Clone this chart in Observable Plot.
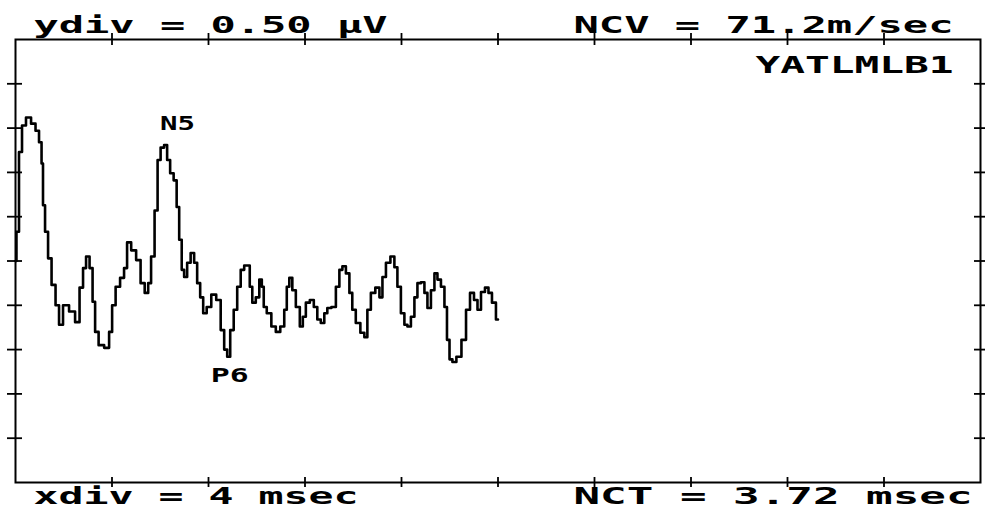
<!DOCTYPE html>
<html>
<head>
<meta charset="utf-8">
<script src="https://cdn.jsdelivr.net/npm/d3@7"></script>
<script src="https://cdn.jsdelivr.net/npm/@observablehq/plot@0.6"></script>
<style>
  html, body { margin: 0; padding: 0; background: #fff; }
  #chart svg { display: block; }
</style>
</head>
<body>
<div id="chart"></div>
<script>
// Trace samples: time (ms) and amplitude (µV)
const timeMs = [0, 0.08, 0.21, 0.33, 0.54, 0.75, 0.91, 1.04, 1.12, 1.16, 1.29, 1.41, 1.58, 1.74, 1.87, 2.07, 2.37, 2.57, 2.74, 2.86, 2.99, 3.15, 3.24, 3.36, 3.53, 3.82, 3.94, 4.07, 4.23, 4.44, 4.56, 4.69, 4.90, 5.10, 5.27, 5.44, 5.56, 5.68, 5.85, 5.93, 6.10, 6.22, 6.35, 6.47, 6.64, 6.72, 6.85, 6.93, 7.05, 7.18, 7.34, 7.47, 7.59, 7.72, 7.84, 8.01, 8.22, 8.42, 8.59, 8.71, 8.84, 8.96, 9.13, 9.25, 9.42, 9.54, 9.67, 9.75, 9.88, 10.04, 10.17, 10.25, 10.33, 10.50, 10.71, 10.87, 11.08, 11.20, 11.29, 11.41, 11.54, 11.70, 11.87, 11.95, 12.12, 12.28, 12.45, 12.57, 12.74, 12.86, 12.99, 13.20, 13.36, 13.49, 13.61, 13.78, 13.90, 14.02, 14.19, 14.40, 14.52, 14.65, 14.81, 15.02, 15.15, 15.27, 15.44, 15.64, 15.77, 15.89, 16.06, 16.18, 16.31, 16.47, 16.60, 16.72, 16.89, 17.01, 17.14, 17.30, 17.43, 17.55, 17.72, 17.84, 17.93, 18.05, 18.17, 18.38, 18.59, 18.76, 18.92, 19.09, 19.21, 19.38, 19.54, 19.67, 19.83, 20.00];
const amplitudeUV = [0.00, 0.33, 1.23, 1.53, 1.62, 1.55, 1.47, 1.34, 1.10, 0.63, 0.33, 0.03, -0.27, -0.50, -0.72, -0.50, -0.57, -0.69, -0.30, -0.08, 0.05, -0.08, -0.46, -0.80, -0.95, -0.98, -0.80, -0.50, -0.29, -0.19, -0.08, 0.21, 0.12, 0.01, -0.25, -0.36, -0.25, 0.05, 0.57, 1.14, 1.28, 1.31, 1.14, 0.99, 0.91, 0.61, 0.24, -0.10, -0.18, -0.02, 0.09, -0.02, -0.25, -0.41, -0.59, -0.52, -0.38, -0.44, -0.78, -1.00, -1.08, -0.78, -0.55, -0.29, -0.10, -0.05, -0.05, -0.29, -0.47, -0.41, -0.21, -0.29, -0.52, -0.59, -0.74, -0.80, -0.74, -0.55, -0.29, -0.19, -0.33, -0.52, -0.74, -0.63, -0.47, -0.44, -0.52, -0.66, -0.70, -0.59, -0.53, -0.52, -0.29, -0.10, -0.06, -0.14, -0.36, -0.55, -0.70, -0.81, -0.86, -0.55, -0.36, -0.30, -0.41, -0.18, -0.02, 0.05, -0.07, -0.29, -0.59, -0.72, -0.74, -0.63, -0.41, -0.25, -0.24, -0.36, -0.53, -0.33, -0.14, -0.21, -0.29, -0.52, -0.89, -1.11, -1.14, -1.08, -0.89, -0.55, -0.36, -0.44, -0.55, -0.35, -0.30, -0.36, -0.47, -0.66];

// Division ticks
const xTicks = [4, 8, 12, 16, 20, 24, 28, 32, 36];
const yTicks = [-2, -1.5, -1, -0.5, 0, 0.5, 1, 1.5, 2];

// Peak annotations
const peakNames = ["N5", "P6"];
const peakTimes = [6.22, 8.84];
const peakValues = [1.31, -1.08];

// Header / footer texts
const yDivText = "ydiv = 0.50 µV";
const ncvText = "NCV = 71.2m/sec";
const idText = "YATLMLB1";
const xDivText = "xdiv = 4 msec";
const nctText = "NCT = 3.72 msec";

const trace = timeMs.map((t, i) => ({t, v: amplitudeUV[i]}));
const peaks = peakNames.map((name, i) => ({name, t: peakTimes[i], v: peakValues[i]}));

const W = 985, H = 509;
const mL = 15, mR = 5, mT = 39, mB = 27;
const innerW = W - mL - mR, innerH = H - mT - mB;

const font = "DejaVu Sans Mono, Liberation Mono, monospace";

const hdr = (txt, dx, dy, size, weight) => Plot.text([txt], {
  frameAnchor: "top-left", text: d => d, dx, dy,
  textAnchor: "start", lineAnchor: "bottom",
  fontSize: size, fontWeight: weight, fontFamily: font, fill: "black"
});

const chart = Plot.plot({
  width: W, height: H,
  marginLeft: mL, marginRight: mR, marginTop: mT, marginBottom: mB,
  x: {domain: [0, 40], axis: null},
  y: {domain: [-2.5, 2.5], axis: null},
  style: {background: "white", overflow: "visible"},
  marks: [
    Plot.frame({stroke: "black", strokeWidth: 2}),
    Plot.ruleX(xTicks, {x: d => d, insetTop: -6, insetBottom: innerH - 6, stroke: "black", strokeWidth: 1.8}),
    Plot.ruleX(xTicks, {x: d => d, insetTop: innerH - 5, insetBottom: -5, stroke: "black", strokeWidth: 1.8}),
    Plot.ruleY(yTicks, {y: d => d, insetLeft: -8, insetRight: innerW - 7, stroke: "black", strokeWidth: 1.8}),
    Plot.ruleY(yTicks, {y: d => d, insetLeft: innerW - 6, insetRight: -6, stroke: "black", strokeWidth: 1.8}),
    Plot.line(trace, {x: "t", y: "v", stroke: "black", strokeWidth: 2.6, curve: "step"}),
    Plot.text(peaks.slice(0, 1), {x: "t", y: "v", text: "name", dx: 12, dy: -15, lineAnchor: "bottom", textAnchor: "middle", fontSize: 20, fontWeight: 600, fontFamily: font, fill: "black"}),
    Plot.text(peaks.slice(1), {x: "t", y: "v", text: "name", dx: 1, dy: 25, lineAnchor: "bottom", textAnchor: "middle", fontSize: 20, fontWeight: 600, fontFamily: font, fill: "black"}),
    hdr(yDivText, 18, -7, 23, "bold"),
    hdr(ncvText, 558, -7, 23, "bold"),
    hdr(idText, 740, 33, 23, "bold"),
    hdr(xDivText, 18, innerH + 21, 23, "bold"),
    hdr(nctText, 558, innerH + 21, 23, "bold")
  ]
});

document.getElementById("chart").appendChild(chart);

// Stretch the pixel-font texts to their widths on the original printout
const lengths = new Map([
  [yDivText, 354], [ncvText, 380], [idText, 198], [xDivText, 325], [nctText, 399],
  ["N5", 35], ["P6", 38]
]);
d3.select(chart).selectAll("text").each(function() {
  const t = this.textContent;
  if (lengths.has(t)) {
    d3.select(this).attr("textLength", lengths.get(t)).attr("lengthAdjust", "spacingAndGlyphs");
  }
});
</script>
</body>
</html>
